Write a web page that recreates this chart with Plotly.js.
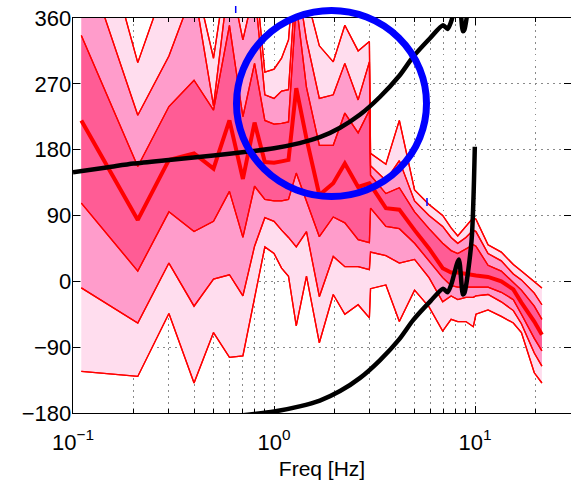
<!DOCTYPE html>
<html><head><meta charset="utf-8">
<script src="https://cdn.plot.ly/plotly-3.0.1.min.js"></script>
<style>html,body{margin:0;padding:0;background:#fff}</style>
</head><body><div id="chart" style="width:571px;height:482px"></div>
<script>
// Frequency grid of the percentile bands (Hz)
const freq   = [0.11, 0.21, 0.3, 0.4, 0.5, 0.6, 0.7, 0.8, 0.9, 1.0, 1.09, 1.18, 1.29, 1.45, 1.68, 1.97, 2.25, 2.62, 2.98,
                3.02, 3.6, 4.2, 5.0, 5.9, 6.9, 7.6, 8.2, 9.0, 9.8, 10.1, 11.6, 13.5, 15.5, 17.0, 19.7, 21.5];
// outer band (lightest)
const upper1 = [580, 299, 420, 420, 305, 450, 430, 430, 286, 290, 305, 330, 460, 390, 322, 300, 350, 315, 328,
                175, 160, 220, 125, 105, 90, 73, 62, 75, 87, 85, 50, 40, 23, 14, 0, -9];
const lower1 = [-123, -130, -44, -139, -70, -104, -102, -25, 47, 38, 18, 7, -61, 7, -84, -18, -45, -32, -50,
                -10, -5, -55, -12, -35, -68, -52, -55, -55, -62, -45, -39, -48, -57, -70, -125, -139];
// middle band
const upper2 = [456, 227, 308, 400, 240, 420, 330, 400, 255, 250, 260, 262, 420, 330, 250, 255, 298, 248, 300,
                158, 138, 165, 110, 90, 75, 60, 52, 60, 70, 68, 38, 28, 10, 2, -16, -32];
const lower2 = [-9, -57, 25, -34, 3, 9, -20, 48, 87, 82, 70, 60, 47, 68, -21, 34, 20, 20, 16,
                40, 35, 25, 30, 5, -28, -20, -25, -22, -22, -20, -18, -28, -40, -58, -98, -116];
// inner band (darkest)
const upper3 = [336, 157, 239, 275, 234, 350, 225, 298, 220, 215, 216, 218, 380, 265, 186, 186, 230, 203, 234,
                145, 120, 128, 95, 72, 52, 42, 38, 44, 50, 48, 22, 14, -2, -12, -34, -52];
const lower3 = [107, 14, 95, 68, 82, 123, 60, 130, 112, 110, 110, 112, 148, 110, 61, 88, 80, 57, 53,
                100, 75, 72, 52, 28, 5, -6, -8, -8, -8, -8, -8, -15, -25, -45, -78, -95];
// median
const median = [220, 84, 166, 175, 154, 220, 140, 217, 163, 162, 164, 166, 264, 195, 118, 134, 161, 129, 134,
                132, 100, 98, 70, 45, 18, 12, 12, 10, 8, 8, 6, 0, -11, -29, -55, -73];

// Model phase curve (black): upper branch and the branch one turn lower
const phaseFreqUpper = [0.1, 0.15, 0.2, 0.3, 0.5, 0.73, 1.0, 1.34, 1.69, 2.13, 2.68, 3.36, 4.2, 4.92, 6.0, 6.93, 7.3, 7.6, 8.3, 8.7, 8.85, 9.6];
const phaseUpper     = [149, 156, 161, 166, 172, 177, 182, 189, 197, 210, 228, 252, 281, 307, 333, 350, 345, 355, 390, 342, 344, 415];
const phaseFreqLower = [0.7, 1.0, 1.34, 1.69, 2.13, 2.68, 3.36, 4.2, 4.92, 6.0, 6.93, 7.3, 7.6, 8.3, 8.7, 8.85, 9.6, 9.97];
const phaseLower     = [-183, -178, -171, -163, -150, -132, -108, -79, -53, -27, -10, -15, -5, 30, -18, -16, 55, 184];

const yTicks = [-180, -90, 0, 90, 180, 270, 360];
const yTickText = ['\u2212180', '\u221290', '0', '90', '180', '270', '360'];
const xTicks = [0.1, 1, 10];
const xTickText = ['10<sup>\u22121</sup>', '10<sup>0</sup>', '10<sup>1</sup>'];
const xMinor = [0.2,0.3,0.4,0.5,0.6,0.7,0.8,0.9,2,3,4,5,6,7,8,9,20,30];

const RED = '#ff0000';
const bands = [
  {lo: lower1, hi: upper1, fill: '#ffddee'},
  {lo: lower2, hi: upper2, fill: '#ff9ccb'},
  {lo: lower3, hi: upper3, fill: '#ff5c95'}
];
const traces = [];
bands.forEach(b => {
  traces.push({x: freq, y: b.lo, mode: 'lines', line: {color: RED, width: 1.3}, hoverinfo: 'skip', showlegend: false});
  traces.push({x: freq, y: b.hi, mode: 'lines', fill: 'tonexty', fillcolor: b.fill, line: {color: RED, width: 1.3}, hoverinfo: 'skip', showlegend: false});
});
bands.forEach(b => {
  traces.push({x: freq, y: b.lo, mode: 'lines', line: {color: RED, width: 1.3}, showlegend: false});
  traces.push({x: freq, y: b.hi, mode: 'lines', line: {color: RED, width: 1.3}, showlegend: false});
});
traces.push({x: freq, y: median, mode: 'lines', line: {color: RED, width: 4}, showlegend: false});
traces.push({x: phaseFreqUpper, y: phaseUpper, mode: 'lines', line: {color: '#000', width: 4.5, shape: 'spline', smoothing: 0.7}, showlegend: false});
traces.push({x: phaseFreqLower, y: phaseLower, mode: 'lines', line: {color: '#000', width: 4.5, shape: 'spline', smoothing: 0.7}, showlegend: false});

const L = 73, T = 18, W = 498, H = 395;
const px = x => (x - L) / W;
const py = y => (T + H - y) / H;
const GRID = '#8a8a8a', DASH = '1.5px,4.5px';

const layout = {
  width: 571, height: 482,
  margin: {l: 73, r: 0, t: 18, b: 69},
  paper_bgcolor: '#fff', plot_bgcolor: '#fff',
  font: {family: 'Liberation Sans, Arial, Helvetica, sans-serif', size: 22, color: '#000'},
  showlegend: false,
  xaxis: {
    type: 'log', range: [-1, Math.log10(30)],
    tickmode: 'array', tickvals: xTicks, ticktext: xTickText,
    ticks: 'inside', ticklen: 7, tickcolor: '#000',
    showline: true, linecolor: '#000', linewidth: 1.3, mirror: 'ticks',
    showgrid: true, gridcolor: GRID, griddash: DASH, gridwidth: 1,
    minor: {tickmode: 'array', tickvals: xMinor, ticks: 'inside', ticklen: 4, tickcolor: '#000', showgrid: true, gridcolor: GRID, griddash: DASH, gridwidth: 1},
    zeroline: false,
    ticklabelstandoff: 9,
    tickfont: {size: 22},
    title: {text: 'Freq [Hz]', font: {size: 21}, standoff: 7}
  },
  yaxis: {
    range: [-180, 360],
    tickmode: 'array', tickvals: yTicks, ticktext: yTickText,
    ticks: 'inside', ticklen: 7, tickcolor: '#000',
    showline: true, linecolor: '#000', linewidth: 1.3, mirror: 'ticks',
    showgrid: true, gridcolor: GRID, griddash: DASH, gridwidth: 1,
    zeroline: false,
    ticklabelstandoff: -4,
    tickfont: {size: 22}
  },
  shapes: [
    {type: 'circle', xref: 'paper', yref: 'paper', x0: px(236.5), x1: px(426.5), y0: py(196.5), y1: py(10.5),
     line: {color: '#0000ff', width: 7}, layer: 'above'},
    {type: 'line', xref: 'paper', yref: 'paper', x0: px(235.7), x1: px(235.7), y0: py(13), y1: py(6), line: {color: '#0000ff', width: 1.5}},
    {type: 'line', xref: 'paper', yref: 'paper', x0: px(427), x1: px(427), y0: py(206), y1: py(198), line: {color: '#0000ff', width: 1.5}}
  ]
};
Plotly.newPlot('chart', traces, layout, {staticPlot: true, displayModeBar: false});
</script>
</body></html>
